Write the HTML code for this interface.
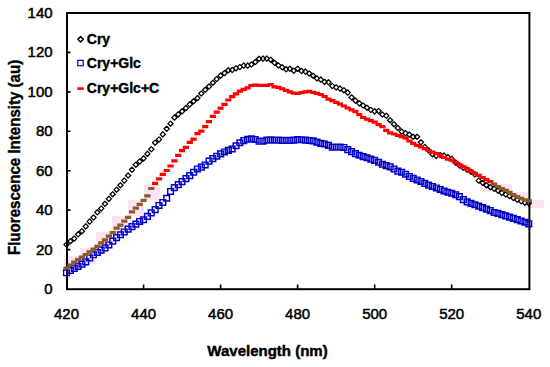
<!DOCTYPE html>
<html><head><meta charset="utf-8"><style>
html,body{margin:0;padding:0;background:#fff;width:550px;height:367px;overflow:hidden}
svg{display:block}
text{font-family:"Liberation Sans",sans-serif}
</style></head><body>
<svg width="550" height="367" viewBox="0 0 550 367">
<rect width="550" height="367" fill="#fff"/>
<rect x="64" y="256" width="16" height="12" fill="#fbe3f3"/><rect x="80" y="248" width="16" height="16" fill="#fbe3f3"/><rect x="96" y="232" width="16" height="16" fill="#fbe3f3"/><rect x="112" y="216" width="16" height="16" fill="#fbe3f3"/><rect x="128" y="200" width="16" height="16" fill="#fbe3f3"/><rect x="144" y="184" width="16" height="16" fill="#fbe3f3"/><rect x="480" y="184" width="16" height="8" fill="#fcebf6"/><rect x="496" y="184" width="16" height="8" fill="#fbe3f3"/><rect x="512" y="192" width="16" height="8" fill="#fbe3f3"/><rect x="528" y="200" width="16" height="8" fill="#fbe3f3"/>
<g font-size="15" fill="#000" stroke="#000" stroke-width="0.5"><text x="52.6" y="294.0" text-anchor="end">0</text><text x="52.6" y="254.6" text-anchor="end">20</text><text x="52.6" y="215.1" text-anchor="end">40</text><text x="52.6" y="175.7" text-anchor="end">60</text><text x="52.6" y="136.3" text-anchor="end">80</text><text x="52.6" y="96.9" text-anchor="end">100</text><text x="52.6" y="57.4" text-anchor="end">120</text><text x="52.6" y="18.0" text-anchor="end">140</text><text x="66.5" y="318.8" text-anchor="middle">420</text><text x="143.6" y="318.8" text-anchor="middle">440</text><text x="220.6" y="318.8" text-anchor="middle">460</text><text x="297.6" y="318.8" text-anchor="middle">480</text><text x="374.7" y="318.8" text-anchor="middle">500</text><text x="451.7" y="318.8" text-anchor="middle">520</text><text x="528.8" y="318.8" text-anchor="middle">540</text></g>
<text x="267.5" y="356" text-anchor="middle" font-size="15" font-weight="bold" stroke="#000" stroke-width="0.45">Wavelength (nm)</text>
<text transform="translate(20,157.4) rotate(-90) scale(0.888,1)" text-anchor="middle" font-size="17" font-weight="bold" stroke="#000" stroke-width="0.4">Fluorescence Intensity (au)</text>
<rect x="67" y="13" width="462.4" height="276.2" fill="none" stroke="#000" stroke-width="2"/>
<path d="M143.6 289v-4.5M220.6 289v-4.5M297.6 289v-4.5M374.7 289v-4.5M451.7 289v-4.5M67 249.6h3.5M67 210.1h3.5M67 170.7h3.5M67 131.3h3.5M67 91.9h3.5M67 52.4h3.5" stroke="#000" stroke-width="1.6" fill="none"/>
<path d="M66.5 242.0L69.1 244.6L66.5 247.2L63.9 244.6ZM70.4 238.6L73.0 241.2L70.4 243.8L67.8 241.2ZM74.2 236.0L76.8 238.6L74.2 241.2L71.6 238.6ZM78.1 231.7L80.7 234.3L78.1 236.9L75.5 234.3ZM81.9 228.6L84.5 231.2L81.9 233.8L79.3 231.2ZM85.8 223.8L88.4 226.4L85.8 229.0L83.2 226.4ZM89.6 219.0L92.2 221.6L89.6 224.2L87.0 221.6ZM93.5 214.9L96.1 217.5L93.5 220.1L90.9 217.5ZM97.3 209.7L99.9 212.3L97.3 214.9L94.7 212.3ZM101.2 205.9L103.8 208.5L101.2 211.1L98.6 208.5ZM105.0 201.2L107.6 203.8L105.0 206.4L102.4 203.8ZM108.9 196.3L111.5 198.9L108.9 201.5L106.3 198.9ZM112.7 191.6L115.3 194.2L112.7 196.8L110.1 194.2ZM116.6 187.1L119.2 189.7L116.6 192.3L114.0 189.7ZM120.4 182.6L123.0 185.2L120.4 187.8L117.8 185.2ZM124.3 178.0L126.9 180.6L124.3 183.2L121.7 180.6ZM128.1 172.9L130.7 175.5L128.1 178.1L125.5 175.5ZM132.0 167.2L134.6 169.8L132.0 172.4L129.4 169.8ZM135.8 162.1L138.4 164.7L135.8 167.3L133.2 164.7ZM139.7 158.9L142.3 161.5L139.7 164.1L137.1 161.5ZM143.6 155.8L146.2 158.4L143.6 161.0L141.0 158.4ZM147.4 151.3L150.0 153.9L147.4 156.5L144.8 153.9ZM151.3 146.6L153.9 149.2L151.3 151.8L148.7 149.2ZM155.1 140.1L157.7 142.7L155.1 145.3L152.5 142.7ZM159.0 136.9L161.6 139.5L159.0 142.1L156.4 139.5ZM162.8 131.8L165.4 134.4L162.8 137.0L160.2 134.4ZM166.7 126.2L169.3 128.8L166.7 131.4L164.1 128.8ZM170.5 121.1L173.1 123.7L170.5 126.3L167.9 123.7ZM174.4 115.0L177.0 117.6L174.4 120.2L171.8 117.6ZM178.2 111.8L180.8 114.4L178.2 117.0L175.6 114.4ZM182.1 108.7L184.7 111.3L182.1 113.9L179.5 111.3ZM185.9 105.5L188.5 108.1L185.9 110.7L183.3 108.1ZM189.8 101.8L192.4 104.4L189.8 107.0L187.2 104.4ZM193.6 98.7L196.2 101.3L193.6 103.9L191.0 101.3ZM197.5 95.5L200.1 98.1L197.5 100.7L194.9 98.1ZM201.3 90.9L203.9 93.5L201.3 96.1L198.7 93.5ZM205.2 87.2L207.8 89.8L205.2 92.4L202.6 89.8ZM209.0 83.9L211.6 86.5L209.0 89.1L206.4 86.5ZM212.9 80.2L215.5 82.8L212.9 85.4L210.3 82.8ZM216.7 76.4L219.3 79.0L216.7 81.6L214.1 79.0ZM220.6 73.0L223.2 75.6L220.6 78.2L218.0 75.6ZM224.5 70.5L227.1 73.1L224.5 75.7L221.9 73.1ZM228.3 67.7L230.9 70.3L228.3 72.9L225.7 70.3ZM232.2 67.4L234.8 70.0L232.2 72.6L229.6 70.0ZM236.0 65.6L238.6 68.2L236.0 70.8L233.4 68.2ZM239.9 64.4L242.5 67.0L239.9 69.6L237.3 67.0ZM243.7 63.0L246.3 65.6L243.7 68.2L241.1 65.6ZM247.6 63.0L250.2 65.6L247.6 68.2L245.0 65.6ZM251.4 61.9L254.0 64.5L251.4 67.1L248.8 64.5ZM255.3 59.4L257.9 62.0L255.3 64.6L252.7 62.0ZM259.1 56.2L261.7 58.8L259.1 61.4L256.5 58.8ZM263.0 56.0L265.6 58.6L263.0 61.2L260.4 58.6ZM266.8 56.0L269.4 58.6L266.8 61.2L264.2 58.6ZM270.7 57.1L273.3 59.7L270.7 62.3L268.1 59.7ZM274.5 60.2L277.1 62.8L274.5 65.4L271.9 62.8ZM278.4 62.8L281.0 65.4L278.4 68.0L275.8 65.4ZM282.2 64.7L284.8 67.3L282.2 69.9L279.6 67.3ZM286.1 66.7L288.7 69.3L286.1 71.9L283.5 69.3ZM289.9 66.2L292.5 68.8L289.9 71.4L287.3 68.8ZM293.8 68.1L296.4 70.7L293.8 73.3L291.2 70.7ZM297.6 66.1L300.2 68.7L297.6 71.3L295.0 68.7ZM301.5 68.4L304.1 71.0L301.5 73.6L298.9 71.0ZM305.4 69.0L308.0 71.6L305.4 74.2L302.8 71.6ZM309.2 70.9L311.8 73.5L309.2 76.1L306.6 73.5ZM313.1 73.1L315.7 75.7L313.1 78.3L310.5 75.7ZM316.9 75.8L319.5 78.4L316.9 81.0L314.3 78.4ZM320.8 77.0L323.4 79.6L320.8 82.2L318.2 79.6ZM324.6 79.3L327.2 81.9L324.6 84.5L322.0 81.9ZM328.5 79.7L331.1 82.3L328.5 84.9L325.9 82.3ZM332.3 83.4L334.9 86.0L332.3 88.6L329.7 86.0ZM336.2 84.8L338.8 87.4L336.2 90.0L333.6 87.4ZM340.0 86.0L342.6 88.6L340.0 91.2L337.4 88.6ZM343.9 87.6L346.5 90.2L343.9 92.8L341.3 90.2ZM347.7 90.0L350.3 92.6L347.7 95.2L345.1 92.6ZM351.6 94.8L354.2 97.4L351.6 100.0L349.0 97.4ZM355.4 98.0L358.0 100.6L355.4 103.2L352.8 100.6ZM359.3 100.8L361.9 103.4L359.3 106.0L356.7 103.4ZM363.1 102.9L365.7 105.5L363.1 108.1L360.5 105.5ZM367.0 105.1L369.6 107.7L367.0 110.3L364.4 107.7ZM370.8 107.3L373.4 109.9L370.8 112.5L368.2 109.9ZM374.7 108.8L377.3 111.4L374.7 114.0L372.1 111.4ZM378.6 108.4L381.2 111.0L378.6 113.6L376.0 111.0ZM382.4 111.9L385.0 114.5L382.4 117.1L379.8 114.5ZM386.3 113.2L388.9 115.8L386.3 118.4L383.7 115.8ZM390.1 117.6L392.7 120.2L390.1 122.8L387.5 120.2ZM394.0 121.6L396.6 124.2L394.0 126.8L391.4 124.2ZM397.8 125.4L400.4 128.0L397.8 130.6L395.2 128.0ZM401.7 129.0L404.3 131.6L401.7 134.2L399.1 131.6ZM405.5 130.5L408.1 133.1L405.5 135.7L402.9 133.1ZM409.4 132.0L412.0 134.6L409.4 137.2L406.8 134.6ZM413.2 134.2L415.8 136.8L413.2 139.4L410.6 136.8ZM417.1 134.2L419.7 136.8L417.1 139.4L414.5 136.8ZM420.9 139.7L423.5 142.3L420.9 144.9L418.3 142.3ZM424.8 144.4L427.4 147.0L424.8 149.6L422.2 147.0ZM428.6 147.8L431.2 150.4L428.6 153.0L426.0 150.4ZM432.5 151.6L435.1 154.2L432.5 156.8L429.9 154.2ZM436.3 153.3L438.9 155.9L436.3 158.5L433.7 155.9ZM440.2 152.4L442.8 155.0L440.2 157.6L437.6 155.0ZM444.0 153.0L446.6 155.6L444.0 158.2L441.4 155.6ZM447.9 154.5L450.5 157.1L447.9 159.7L445.3 157.1ZM451.7 156.3L454.3 158.9L451.7 161.5L449.1 158.9ZM455.6 160.0L458.2 162.6L455.6 165.2L453.0 162.6ZM459.5 162.8L462.1 165.4L459.5 168.0L456.9 165.4ZM463.3 165.1L465.9 167.7L463.3 170.3L460.7 167.7ZM467.2 167.0L469.8 169.6L467.2 172.2L464.6 169.6ZM471.0 169.1L473.6 171.7L471.0 174.3L468.4 171.7ZM474.9 171.8L477.5 174.4L474.9 177.0L472.3 174.4ZM478.7 178.0L481.3 180.6L478.7 183.2L476.1 180.6ZM482.6 180.2L485.2 182.8L482.6 185.4L480.0 182.8ZM486.4 182.6L489.0 185.2L486.4 187.8L483.8 185.2ZM490.3 184.6L492.9 187.2L490.3 189.8L487.7 187.2ZM494.1 186.2L496.7 188.8L494.1 191.4L491.5 188.8ZM498.0 188.1L500.6 190.7L498.0 193.3L495.4 190.7ZM501.8 190.3L504.4 192.9L501.8 195.5L499.2 192.9ZM505.7 191.9L508.3 194.5L505.7 197.1L503.1 194.5ZM509.5 193.5L512.1 196.1L509.5 198.7L506.9 196.1ZM513.4 195.4L516.0 198.0L513.4 200.6L510.8 198.0ZM517.2 197.2L519.8 199.8L517.2 202.4L514.6 199.8ZM521.1 198.7L523.7 201.3L521.1 203.9L518.5 201.3ZM524.9 200.1L527.5 202.7L524.9 205.3L522.3 202.7ZM528.8 200.6L531.4 203.2L528.8 205.8L526.2 203.2Z" fill="none" stroke="#000" stroke-width="1.25" stroke-linejoin="round"/>
<path d="M63.6 269.9h5.7v5.7h-5.7ZM67.5 267.5h5.7v5.7h-5.7ZM71.4 265.5h5.7v5.7h-5.7ZM75.2 263.5h5.7v5.7h-5.7ZM79.1 261.2h5.7v5.7h-5.7ZM82.9 259.0h5.7v5.7h-5.7ZM86.8 255.1h5.7v5.7h-5.7ZM90.6 251.9h5.7v5.7h-5.7ZM94.5 249.6h5.7v5.7h-5.7ZM98.3 247.3h5.7v5.7h-5.7ZM102.2 245.0h5.7v5.7h-5.7ZM106.0 242.1h5.7v5.7h-5.7ZM109.9 238.3h5.7v5.7h-5.7ZM113.7 234.8h5.7v5.7h-5.7ZM117.6 231.9h5.7v5.7h-5.7ZM121.4 229.1h5.7v5.7h-5.7ZM125.3 226.2h5.7v5.7h-5.7ZM129.1 223.7h5.7v5.7h-5.7ZM133.0 221.3h5.7v5.7h-5.7ZM136.8 218.6h5.7v5.7h-5.7ZM140.7 216.9h5.7v5.7h-5.7ZM144.6 213.5h5.7v5.7h-5.7ZM148.4 210.0h5.7v5.7h-5.7ZM152.3 206.8h5.7v5.7h-5.7ZM156.1 202.6h5.7v5.7h-5.7ZM160.0 199.6h5.7v5.7h-5.7ZM163.8 195.4h5.7v5.7h-5.7ZM167.7 188.6h5.7v5.7h-5.7ZM171.5 184.7h5.7v5.7h-5.7ZM175.4 181.7h5.7v5.7h-5.7ZM179.2 178.7h5.7v5.7h-5.7ZM183.1 175.7h5.7v5.7h-5.7ZM186.9 172.7h5.7v5.7h-5.7ZM190.8 169.4h5.7v5.7h-5.7ZM194.6 166.1h5.7v5.7h-5.7ZM198.5 164.2h5.7v5.7h-5.7ZM202.3 162.1h5.7v5.7h-5.7ZM206.2 158.2h5.7v5.7h-5.7ZM210.0 155.8h5.7v5.7h-5.7ZM213.9 153.4h5.7v5.7h-5.7ZM217.8 151.0h5.7v5.7h-5.7ZM221.6 149.1h5.7v5.7h-5.7ZM225.5 147.5h5.7v5.7h-5.7ZM229.3 146.1h5.7v5.7h-5.7ZM233.2 142.9h5.7v5.7h-5.7ZM237.0 139.9h5.7v5.7h-5.7ZM240.9 137.7h5.7v5.7h-5.7ZM244.7 136.4h5.7v5.7h-5.7ZM248.6 135.9h5.7v5.7h-5.7ZM252.4 136.6h5.7v5.7h-5.7ZM256.3 138.2h5.7v5.7h-5.7ZM260.1 138.2h5.7v5.7h-5.7ZM264.0 137.3h5.7v5.7h-5.7ZM267.8 137.0h5.7v5.7h-5.7ZM271.7 137.2h5.7v5.7h-5.7ZM275.5 137.3h5.7v5.7h-5.7ZM279.4 137.5h5.7v5.7h-5.7ZM283.2 137.5h5.7v5.7h-5.7ZM287.1 137.6h5.7v5.7h-5.7ZM290.9 137.3h5.7v5.7h-5.7ZM294.8 136.8h5.7v5.7h-5.7ZM298.7 136.9h5.7v5.7h-5.7ZM302.5 137.2h5.7v5.7h-5.7ZM306.4 137.6h5.7v5.7h-5.7ZM310.2 138.0h5.7v5.7h-5.7ZM314.1 139.2h5.7v5.7h-5.7ZM317.9 140.5h5.7v5.7h-5.7ZM321.8 141.1h5.7v5.7h-5.7ZM325.6 142.5h5.7v5.7h-5.7ZM329.5 144.2h5.7v5.7h-5.7ZM333.3 144.2h5.7v5.7h-5.7ZM337.2 144.3h5.7v5.7h-5.7ZM341.0 144.6h5.7v5.7h-5.7ZM344.9 146.8h5.7v5.7h-5.7ZM348.7 148.8h5.7v5.7h-5.7ZM352.6 150.8h5.7v5.7h-5.7ZM356.4 152.4h5.7v5.7h-5.7ZM360.3 153.7h5.7v5.7h-5.7ZM364.1 154.9h5.7v5.7h-5.7ZM368.0 156.2h5.7v5.7h-5.7ZM371.8 157.5h5.7v5.7h-5.7ZM375.7 159.4h5.7v5.7h-5.7ZM379.6 161.4h5.7v5.7h-5.7ZM383.4 162.7h5.7v5.7h-5.7ZM387.3 164.0h5.7v5.7h-5.7ZM391.1 166.1h5.7v5.7h-5.7ZM395.0 168.2h5.7v5.7h-5.7ZM398.8 169.4h5.7v5.7h-5.7ZM402.7 171.4h5.7v5.7h-5.7ZM406.5 173.6h5.7v5.7h-5.7ZM410.4 175.5h5.7v5.7h-5.7ZM414.2 177.1h5.7v5.7h-5.7ZM418.1 178.6h5.7v5.7h-5.7ZM421.9 180.5h5.7v5.7h-5.7ZM425.8 182.2h5.7v5.7h-5.7ZM429.6 183.6h5.7v5.7h-5.7ZM433.5 185.1h5.7v5.7h-5.7ZM437.3 186.6h5.7v5.7h-5.7ZM441.2 188.1h5.7v5.7h-5.7ZM445.0 189.4h5.7v5.7h-5.7ZM448.9 190.4h5.7v5.7h-5.7ZM452.8 191.9h5.7v5.7h-5.7ZM456.6 193.8h5.7v5.7h-5.7ZM460.5 196.7h5.7v5.7h-5.7ZM464.3 199.0h5.7v5.7h-5.7ZM468.2 200.5h5.7v5.7h-5.7ZM472.0 201.9h5.7v5.7h-5.7ZM475.9 203.3h5.7v5.7h-5.7ZM479.7 204.8h5.7v5.7h-5.7ZM483.6 206.2h5.7v5.7h-5.7ZM487.4 207.7h5.7v5.7h-5.7ZM491.3 209.6h5.7v5.7h-5.7ZM495.1 210.5h5.7v5.7h-5.7ZM499.0 211.7h5.7v5.7h-5.7ZM502.8 213.0h5.7v5.7h-5.7ZM506.7 214.3h5.7v5.7h-5.7ZM510.5 215.5h5.7v5.7h-5.7ZM514.4 216.8h5.7v5.7h-5.7ZM518.2 218.1h5.7v5.7h-5.7ZM522.1 219.4h5.7v5.7h-5.7ZM525.9 221.0h5.7v5.7h-5.7Z" fill="none" stroke="#0000c8" stroke-width="1.45"/>
<path d="M152.0 181.8h6.2v3.2h-6.2ZM155.9 177.2h6.2v3.2h-6.2ZM159.7 172.8h6.2v3.2h-6.2ZM163.6 168.9h6.2v3.2h-6.2ZM167.4 164.4h6.2v3.2h-6.2ZM171.3 159.2h6.2v3.2h-6.2ZM175.1 153.8h6.2v3.2h-6.2ZM179.0 149.1h6.2v3.2h-6.2ZM182.8 145.8h6.2v3.2h-6.2ZM186.7 140.7h6.2v3.2h-6.2ZM190.5 137.5h6.2v3.2h-6.2ZM194.4 132.1h6.2v3.2h-6.2ZM198.2 129.5h6.2v3.2h-6.2ZM202.1 125.0h6.2v3.2h-6.2ZM205.9 120.0h6.2v3.2h-6.2ZM209.8 114.8h6.2v3.2h-6.2ZM213.6 110.5h6.2v3.2h-6.2ZM217.5 106.6h6.2v3.2h-6.2ZM221.4 102.7h6.2v3.2h-6.2ZM225.2 98.4h6.2v3.2h-6.2ZM229.1 95.0h6.2v3.2h-6.2ZM232.9 92.2h6.2v3.2h-6.2ZM236.8 89.5h6.2v3.2h-6.2ZM240.6 87.7h6.2v3.2h-6.2ZM244.5 86.3h6.2v3.2h-6.2ZM248.3 83.9h6.2v3.2h-6.2ZM252.2 83.6h6.2v3.2h-6.2ZM256.0 83.7h6.2v3.2h-6.2ZM259.9 83.7h6.2v3.2h-6.2ZM263.7 83.7h6.2v3.2h-6.2ZM267.6 82.9h6.2v3.2h-6.2ZM271.4 85.3h6.2v3.2h-6.2ZM275.3 85.8h6.2v3.2h-6.2ZM279.1 87.2h6.2v3.2h-6.2ZM283.0 88.8h6.2v3.2h-6.2ZM286.8 90.2h6.2v3.2h-6.2ZM290.7 91.5h6.2v3.2h-6.2ZM294.5 91.8h6.2v3.2h-6.2ZM298.4 91.1h6.2v3.2h-6.2ZM302.3 90.3h6.2v3.2h-6.2ZM306.1 89.7h6.2v3.2h-6.2ZM310.0 90.8h6.2v3.2h-6.2ZM313.8 91.8h6.2v3.2h-6.2ZM317.7 92.9h6.2v3.2h-6.2ZM321.5 94.9h6.2v3.2h-6.2ZM325.4 97.5h6.2v3.2h-6.2ZM329.2 99.1h6.2v3.2h-6.2ZM333.1 100.7h6.2v3.2h-6.2ZM336.9 102.5h6.2v3.2h-6.2ZM340.8 104.4h6.2v3.2h-6.2ZM344.6 106.4h6.2v3.2h-6.2ZM348.5 108.3h6.2v3.2h-6.2ZM352.3 110.1h6.2v3.2h-6.2ZM356.2 112.9h6.2v3.2h-6.2ZM360.0 115.9h6.2v3.2h-6.2ZM363.9 117.5h6.2v3.2h-6.2ZM367.7 119.0h6.2v3.2h-6.2ZM371.6 120.5h6.2v3.2h-6.2ZM375.5 123.1h6.2v3.2h-6.2ZM379.3 125.1h6.2v3.2h-6.2ZM383.2 128.7h6.2v3.2h-6.2ZM387.0 131.3h6.2v3.2h-6.2ZM390.9 132.4h6.2v3.2h-6.2ZM394.7 133.8h6.2v3.2h-6.2ZM398.6 135.1h6.2v3.2h-6.2ZM402.4 136.3h6.2v3.2h-6.2ZM406.3 139.4h6.2v3.2h-6.2ZM410.1 141.8h6.2v3.2h-6.2ZM414.0 143.7h6.2v3.2h-6.2ZM417.8 145.3h6.2v3.2h-6.2ZM421.7 147.0h6.2v3.2h-6.2ZM425.5 148.9h6.2v3.2h-6.2ZM429.4 150.4h6.2v3.2h-6.2ZM433.2 152.1h6.2v3.2h-6.2ZM437.1 154.0h6.2v3.2h-6.2ZM440.9 155.9h6.2v3.2h-6.2ZM444.8 157.6h6.2v3.2h-6.2ZM448.6 158.6h6.2v3.2h-6.2ZM452.5 160.8h6.2v3.2h-6.2ZM456.4 163.1h6.2v3.2h-6.2ZM460.2 165.3h6.2v3.2h-6.2ZM464.1 167.2h6.2v3.2h-6.2ZM467.9 169.6h6.2v3.2h-6.2ZM471.8 171.8h6.2v3.2h-6.2ZM475.6 173.8h6.2v3.2h-6.2ZM479.5 175.9h6.2v3.2h-6.2ZM483.3 178.1h6.2v3.2h-6.2ZM487.2 180.0h6.2v3.2h-6.2Z" fill="#ff0000"/>
<path d="M63.4 266.4h6.2v3.2h-6.2ZM67.3 263.4h6.2v3.2h-6.2ZM71.1 260.6h6.2v3.2h-6.2ZM75.0 258.1h6.2v3.2h-6.2ZM78.8 255.6h6.2v3.2h-6.2ZM82.7 252.9h6.2v3.2h-6.2ZM86.5 250.2h6.2v3.2h-6.2ZM90.4 247.6h6.2v3.2h-6.2ZM94.2 244.8h6.2v3.2h-6.2ZM98.1 241.3h6.2v3.2h-6.2ZM101.9 238.2h6.2v3.2h-6.2ZM105.8 234.5h6.2v3.2h-6.2ZM109.6 231.0h6.2v3.2h-6.2ZM113.5 226.6h6.2v3.2h-6.2ZM117.3 223.5h6.2v3.2h-6.2ZM121.2 219.6h6.2v3.2h-6.2ZM125.0 215.7h6.2v3.2h-6.2ZM128.9 210.3h6.2v3.2h-6.2ZM132.7 206.6h6.2v3.2h-6.2ZM136.6 202.7h6.2v3.2h-6.2ZM140.5 198.8h6.2v3.2h-6.2ZM144.3 194.3h6.2v3.2h-6.2ZM148.2 186.9h6.2v3.2h-6.2ZM491.0 182.5h6.2v3.2h-6.2ZM494.9 185.0h6.2v3.2h-6.2ZM498.7 187.0h6.2v3.2h-6.2ZM502.6 188.8h6.2v3.2h-6.2ZM506.4 190.7h6.2v3.2h-6.2ZM510.3 192.9h6.2v3.2h-6.2ZM514.1 195.0h6.2v3.2h-6.2ZM518.0 196.7h6.2v3.2h-6.2ZM521.8 198.2h6.2v3.2h-6.2ZM525.7 199.3h6.2v3.2h-6.2Z" fill="#8a5a28"/>
<g font-size="14" font-weight="bold" stroke="#000" stroke-width="0.4">
<path d="M80.6 36.6L83.3 39.3L80.6 42L77.9 39.3Z" fill="none" stroke="#000" stroke-width="1.6" stroke-linejoin="round"/>
<text x="86.8" y="43.8">Cry</text>
<rect x="77.8" y="60.3" width="5.4" height="5.4" fill="none" stroke="#0000c8" stroke-width="1.2"/>
<text x="86.8" y="68.3">Cry+Glc</text>
<rect x="77.3" y="87.3" width="6.4" height="2.6" fill="#ff0000" stroke="none"/>
<text x="86.8" y="93.3">Cry+Glc+C</text>
</g>
</svg>
</body></html>
